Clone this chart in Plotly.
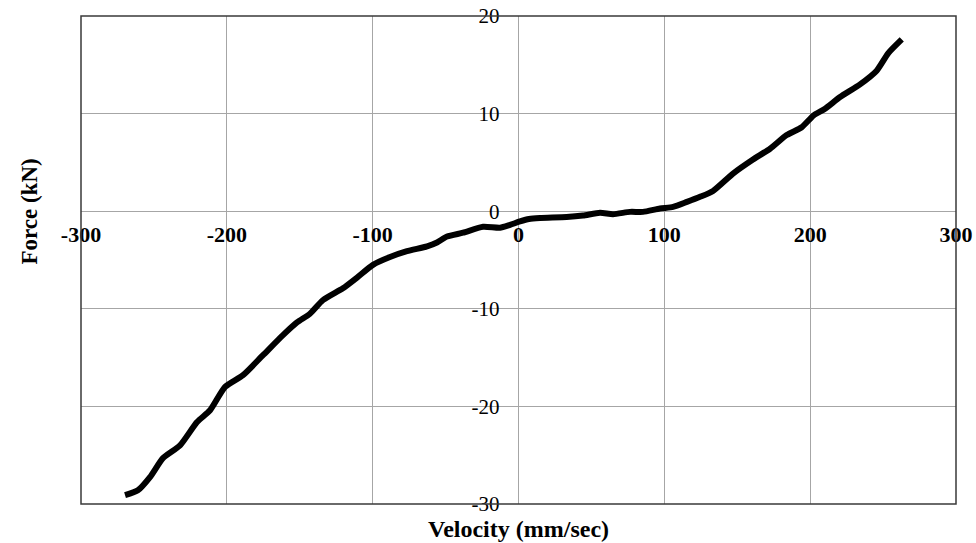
import plotly.graph_objects as go

velocity = [-269.8, -261.0, -252.7, -243.8, -232.1, -220.4, -211.5, -201.2, -188.9, -175.2,
            -161.5, -151.9, -143.0, -134.0, -120.4, -110.7, -99.8, -88.1, -76.5, -62.7,
            -55.9, -49.0, -38.0, -24.3, -12.7, -5.8, 1.0, 7.2, 14.7, 33.0,
            44.2, 55.9, 64.8, 76.5, 85.4, 97.0, 106.0, 115.5, 124.5, 133.4,
            147.1, 160.8, 172.5, 183.9, 194.2, 202.2, 210.2, 220.5, 234.2, 245.6,
            253.6, 262.8]
force = [-29.1, -28.6, -27.25, -25.3, -24.0, -21.6, -20.4, -18.0, -16.8, -14.75,
         -12.7, -11.4, -10.5, -9.1, -7.9, -6.8, -5.5, -4.7, -4.1, -3.6,
         -3.2, -2.6, -2.2, -1.6, -1.7, -1.4, -1.05, -0.8, -0.7, -0.6,
         -0.45, -0.17, -0.3, -0.07, -0.07, 0.28, 0.44, 0.95, 1.47, 2.08,
         3.86, 5.3, 6.4, 7.8, 8.6, 9.8, 10.5, 11.7, 13.0, 14.4,
         16.2, 17.6]

x_ticks = [-300, -200, -100, 0, 100, 200, 300]
y_ticks = [-30, -20, -10, 0, 10, 20]

x_title = "Velocity (mm/sec)"
y_title = "Force (kN)"

SERIF = "Liberation Serif, Times New Roman, serif"

fig = go.Figure()
fig.add_trace(go.Scatter(x=velocity, y=force, mode="lines",
                         line=dict(color="black", width=6, shape="spline", smoothing=0.6),
                         showlegend=False, hoverinfo="skip"))

fig.update_layout(
    width=976, height=543,
    margin=dict(l=81, r=20, t=16, b=39),
    paper_bgcolor="white", plot_bgcolor="white",
    xaxis=dict(range=[-300, 300], tickvals=x_ticks, ticktext=[str(v) for v in x_ticks],
               anchor="free", position=0.6, showline=False, zeroline=False,
               showgrid=True, gridcolor="#a6a6a6", gridwidth=1, ticks="",
               ticklabelstandoff=8,
               tickfont=dict(family=SERIF, size=22, color="black", weight="bold"),
               automargin=False),
    yaxis=dict(range=[-30, 20], tickvals=y_ticks, ticktext=[str(v) for v in y_ticks],
               anchor="free", position=0.5, showline=False, zeroline=False,
               showgrid=True, gridcolor="#a6a6a6", gridwidth=1, ticks="",
               ticklabelstandoff=19,
               tickfont=dict(family=SERIF, size=21, color="black"),
               automargin=False),
    shapes=[dict(type="rect", xref="paper", yref="paper", x0=0, x1=1, y0=0, y1=1,
                 line=dict(color="#3a3a3a", width=1.5), fillcolor="rgba(0,0,0,0)", layer="above")],
    annotations=[
        dict(text=x_title, xref="paper", yref="paper", x=0.5, y=-0.051, yanchor="middle",
             showarrow=False, font=dict(family=SERIF, size=24, color="black", weight="bold")),
        dict(text=y_title, xref="paper", yref="paper", x=-0.059, y=0.6, xanchor="center",
             textangle=-90, showarrow=False,
             font=dict(family=SERIF, size=23, color="black", weight="bold")),
    ],
)

fig.write_html("out.html")
